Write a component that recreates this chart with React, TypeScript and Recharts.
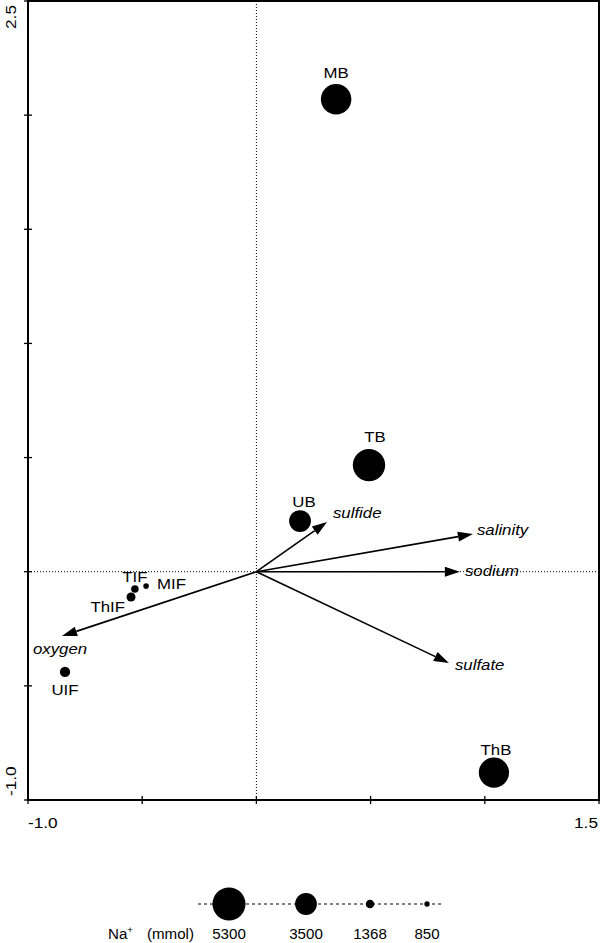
import React from 'react';
import {
  ScatterChart,
  Scatter,
  XAxis,
  YAxis,
  ZAxis,
  ReferenceLine,
  ReferenceArea,
} from 'recharts';

// sites (CCA sample scores) and their Na+ concentration
const SITES = ['MB', 'TB', 'UB', 'ThB', 'TIF', 'MIF', 'ThIF', 'UIF'];
const SITE_X = [0.349, 0.493, 0.191, 1.04, -0.532, -0.483, -0.549, -0.838];
const SITE_Y = [2.07, 0.467, 0.222, -0.88, -0.076, -0.063, -0.111, -0.439];
const SITE_NA = [4900, 5200, 3500, 4850, 1200, 900, 1450, 1650];

// environmental vectors
const VARS = ['sulfide', 'salinity', 'sodium', 'sulfate', 'oxygen'];
const VAR_X = [0.309, 0.948, 0.891, 0.843, -0.851];
const VAR_Y = [0.218, 0.165, 0, -0.4, -0.282];

const LEGEND_NA = [5300, 3500, 1368, 850];
const X_TICKS = [-1, -0.5, 0, 0.5, 1, 1.5];
const Y_TICKS = [-1, -0.5, 0, 0.5, 1, 1.5, 2, 2.5];

const NA_MAX = 5300;
const R_MAX = 16.5;
const FONT = '"Liberation Sans", Arial, Helvetica, sans-serif';
const STRETCH = 1.2;

const siteData = SITES.map((name, i) => ({ name, x: SITE_X[i], y: SITE_Y[i], na: SITE_NA[i] }));

// label placement relative to the mark
const SITE_LABEL: Record<string, [number, number, 'start' | 'middle' | 'end']> = {
  MB: [0, -21, 'middle'],
  TB: [6, -23, 'middle'],
  UB: [4, -14, 'middle'],
  ThB: [2, -18, 'middle'],
  TIF: [0, -7, 'middle'],
  MIF: [11, 3, 'start'],
  ThIF: [-6, 15, 'end'],
  UIF: [0, 23, 'middle'],
};

const VAR_LABEL: Record<string, [number, number, 'start' | 'middle' | 'end']> = {
  sulfide: [6, -4, 'start'],
  salinity: [4, 1, 'start'],
  sodium: [5, 4, 'start'],
  sulfate: [6, 7, 'start'],
  oxygen: [-2, 18, 'middle'],
};

function Label({ x, y, anchor, italic, children, size = 14, sx = STRETCH }: any) {
  return (
    <text
      x={0}
      y={0}
      transform={`translate(${x},${y}) scale(${sx},1)`}
      textAnchor={anchor}
      fontFamily={FONT}
      fontSize={size}
      fontStyle={italic ? 'italic' : 'normal'}
      fill="#000"
    >
      {children}
    </text>
  );
}

function SiteShape(props: any) {
  const { cx, cy, size, payload } = props;
  const [dx, dy, anchor] = SITE_LABEL[payload.name];
  return (
    <g>
      <circle cx={cx} cy={cy} r={size} fill="#000" />
      <Label x={cx + dx} y={cy + dy} anchor={anchor}>
        {payload.name}
      </Label>
    </g>
  );
}

function arrowShape(name: string) {
  return (props: any) => {
    const { x1, y1, x2, y2 } = props;
    const len = Math.hypot(x2 - x1, y2 - y1);
    const ux = (x2 - x1) / len;
    const uy = (y2 - y1) / len;
    const hl = 15;
    const hw = 5;
    const bx = x2 - ux * hl;
    const by = y2 - uy * hl;
    const [dx, dy, anchor] = VAR_LABEL[name];
    return (
      <g>
        <line x1={x1} y1={y1} x2={bx} y2={by} stroke="#000" strokeWidth={1.6} />
        <polygon
          points={`${x2},${y2} ${bx - uy * hw},${by + ux * hw} ${bx + uy * hw},${by - ux * hw}`}
          fill="#000"
        />
        <Label x={x2 + dx} y={y2 + dy} anchor={anchor} italic>
          {name}
        </Label>
      </g>
    );
  };
}

function XTick({ x, y, payload }: any) {
  const v = payload.value;
  return (
    <g>
      <line x1={x} x2={x} y1={y - 4} y2={y + 4} stroke="#000" strokeWidth={1.3} />
      {v === -1 && (
        <Label x={x} y={y + 28} anchor="start" size={15} sx={1.15}>
          -1.0
        </Label>
      )}
      {v === 1.5 && (
        <Label x={x - 1} y={y + 28} anchor="end" size={15} sx={1.15}>
          1.5
        </Label>
      )}
    </g>
  );
}

function YTick({ x, y, payload }: any) {
  const v = payload.value;
  const rot = (ty: number, anchor: string, s: string) => (
    <text
      x={0}
      y={0}
      transform={`translate(15.5,${ty}) rotate(-90) scale(1.15,1)`}
      textAnchor={anchor}
      fontFamily={FONT}
      fontSize={15}
      fill="#000"
    >
      {s}
    </text>
  );
  return (
    <g>
      <line x1={x - 4} x2={x + 4} y1={y} y2={y} stroke="#000" strokeWidth={1.3} />
      {v === 2.5 && rot(y + 4, 'end', '2.5')}
      {v === -1 && rot(y - 4, 'start', '-1.0')}
    </g>
  );
}

function SizeLegend() {
  const xs = [229, 306, 370, 427];
  return (
    <svg width={600} height={943} style={{ position: 'absolute', left: 0, top: 0, pointerEvents: 'none' }}>
      <line x1={198} x2={443} y1={904} y2={904} stroke="#000" strokeWidth={1} strokeDasharray="3 3" />
      {LEGEND_NA.map((v, i) => (
        <g key={v}>
          <circle cx={xs[i]} cy={904} r={(v / NA_MAX) * R_MAX} fill="#000" />
          <Label x={xs[i]} y={939} anchor="middle" sx={1.08}>
            {v}
          </Label>
        </g>
      ))}
      <Label x={108} y={939} anchor="start" sx={1.08}>
        Na
        <tspan fontSize={9} dy={-6}>+</tspan>
      </Label>
      <Label x={147} y={939} anchor="start" sx={1.08}>
        (mmol)
      </Label>
    </svg>
  );
}

export default function App() {
  return (
    <div style={{ position: 'absolute', left: 0, top: 0, width: 600, height: 943, background: '#fff' }}>
      <ScatterChart width={600} height={943} margin={{ top: 1, right: 1, left: 0, bottom: 0 }}>
        <XAxis
          type="number"
          dataKey="x"
          domain={[-1, 1.5]}
          ticks={X_TICKS}
          interval={0}
          allowDataOverflow
          axisLine={false}
          tickLine={false}
          tickSize={0}
          tickMargin={0}
          height={143}
          tick={<XTick />}
        />
        <YAxis
          type="number"
          dataKey="y"
          domain={[-1, 2.5]}
          ticks={Y_TICKS}
          interval={0}
          allowDataOverflow
          axisLine={false}
          tickLine={false}
          tickSize={0}
          tickMargin={0}
          width={28}
          tick={<YTick />}
        />
        <ZAxis type="number" dataKey="na" domain={[0, NA_MAX]} range={[0, R_MAX]} />
        <ReferenceArea x1={-1} x2={1.5} y1={-1} y2={2.5} fill="none" stroke="#000" strokeWidth={2} fillOpacity={0} />
        <ReferenceLine x={0} stroke="#000" strokeWidth={1} strokeDasharray="1 2" />
        <ReferenceLine y={0} stroke="#000" strokeWidth={1} strokeDasharray="1 2" />
        {VARS.map((name, i) => (
          <ReferenceLine
            key={name}
            segment={[
              { x: 0, y: 0 },
              { x: VAR_X[i], y: VAR_Y[i] },
            ]}
            stroke="#000"
            shape={arrowShape(name)}
          />
        ))}
        <Scatter data={siteData} fill="#000" shape={<SiteShape />} isAnimationActive={false} />
      </ScatterChart>
      <SizeLegend />
    </div>
  );
}
